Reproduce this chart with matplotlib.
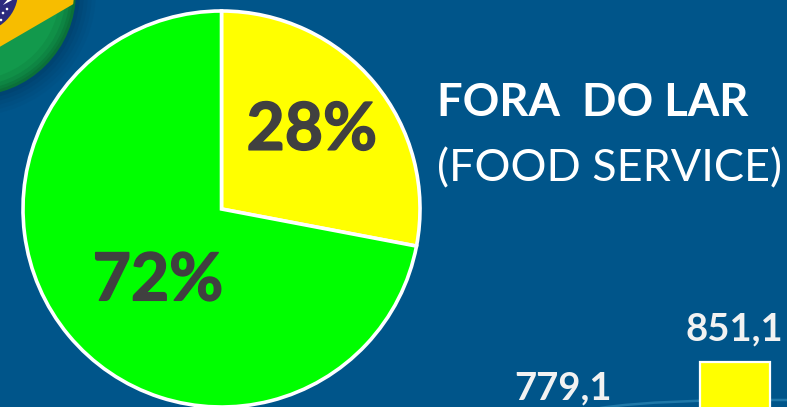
import matplotlib
matplotlib.use("Agg")
import matplotlib.pyplot as plt
import matplotlib.patheffects as pe
from matplotlib.patches import Circle, Polygon, PathPatch
from matplotlib.path import Path

W, H = 787, 407
BG = "#00558a"

pie_labels = ["28%", "72%"]
pie_values = [28, 72]
pie_colors = ["#ffff00", "#00ff00"]
bar_categories = ["A", "B"]
bar_values = [779.1, 851.1]
bar_labels = ["779,1", "851,1"]

plt.rcParams["font.family"] = ["Lato", "DejaVu Sans"]
fig = plt.figure(figsize=(W / 100, H / 100), dpi=100, facecolor=BG)

def box(x0, y0, x1, y1):
    return [x0 / W, 1 - y1 / H, (x1 - x0) / W, (y1 - y0) / H]

# Backdrop in pixel coordinates
bg = fig.add_axes([0, 0, 1, 1], zorder=0)
bg.set_xlim(0, W); bg.set_ylim(H, 0); bg.axis("off")
for r, a in [(124, .05), (120, .06), (116, .08), (112, .10), (108, .12)]:
    bg.add_patch(Circle((-28, -8), r, fc="#002a4c", ec="none", alpha=a))
flag = Circle((-28, -8), 104, fc="#0b7038", ec="none")
bg.add_patch(flag)
for r, c in [(101, "#0c7a3d"), (98, "#0e8543"), (94, "#109047"), (88, "#12994c")]:
    bg.add_patch(Circle((-28, -8), r, fc=c, ec="none"))
yellow = Polygon([(-40, 70), (82, -1), (82, -12), (-40, -12)], fc="#f7bd00", ec="none")
bg.add_patch(yellow); yellow.set_clip_path(Circle((-28, -8), 102, transform=bg.transData))
blue = Circle((-22, -8), 40, fc="#2c2a7e", ec="none"); bg.add_patch(blue)
for p in [(3, 13), (7, 9), (1, 20)]:
    bg.add_patch(Circle(p, 1.3, fc="white", ec="none"))
bg.add_patch(Polygon([(8, -1), (14, -1), (3, 5)], fc="white", ec="none"))
arc = Path([(600, 408), (660, 399), (787, 400)], [Path.MOVETO, Path.CURVE3, Path.CURVE3])
bg.add_patch(PathPatch(arc, fc="none", ec="#1f78a8", lw=1.8))

# Pie
heavy = [pe.withStroke(linewidth=1.1, foreground="#404040")]
pax = fig.add_axes(box(22, 10, 421, 408), zorder=1)
wedges, _ = pax.pie(pie_values, colors=pie_colors, startangle=90, counterclock=False,
                    radius=1.0, wedgeprops=dict(edgecolor="white", linewidth=2.6, clip_on=False))
pax.set_xlim(-1.005, 1.005); pax.set_ylim(-1.005, 1.005)
pax.set_aspect("auto")
pax.text(0.455, 0.395, pie_labels[0], fontsize=47.5, fontweight="bold", color="#404040",
         ha="center", va="center", path_effects=heavy)
pax.text(-0.32, -0.365, pie_labels[1], fontsize=47.5, fontweight="bold", color="#404040",
         ha="center", va="center", path_effects=heavy)

# Title
fig.text(437 / W, 1 - 116 / H, "FORA  DO LAR", fontsize=32.7, fontweight="bold", color="white",
         ha="left", va="baseline")
fig.text(437 / W, 1 - 181 / H, "(FOOD SERVICE)", fontsize=32.4, color="white",
         ha="left", va="baseline")

# Bars
bax = fig.add_axes(box(477, 300, 821, 407), zorder=1)
bax.patch.set_alpha(0)
bax.set_xlim(-0.5, 1.5)
bax.set_ylim(796.9, 925.8)
bax.bar(range(len(bar_values)), bar_values, width=0.41, color="#ffff00", edgecolor="white", linewidth=1.6)
bax.axis("off")
for i, (v, s) in enumerate(zip(bar_values, bar_labels)):
    bax.annotate(s, (i, v), xytext=(-0.7 if i else 0, 15.8), textcoords="offset points", ha="center",
                 va="baseline", fontsize=27.5, fontweight="bold", color="#f2f2f2", annotation_clip=False)

fig.savefig("out.png", dpi=100, facecolor=BG)
